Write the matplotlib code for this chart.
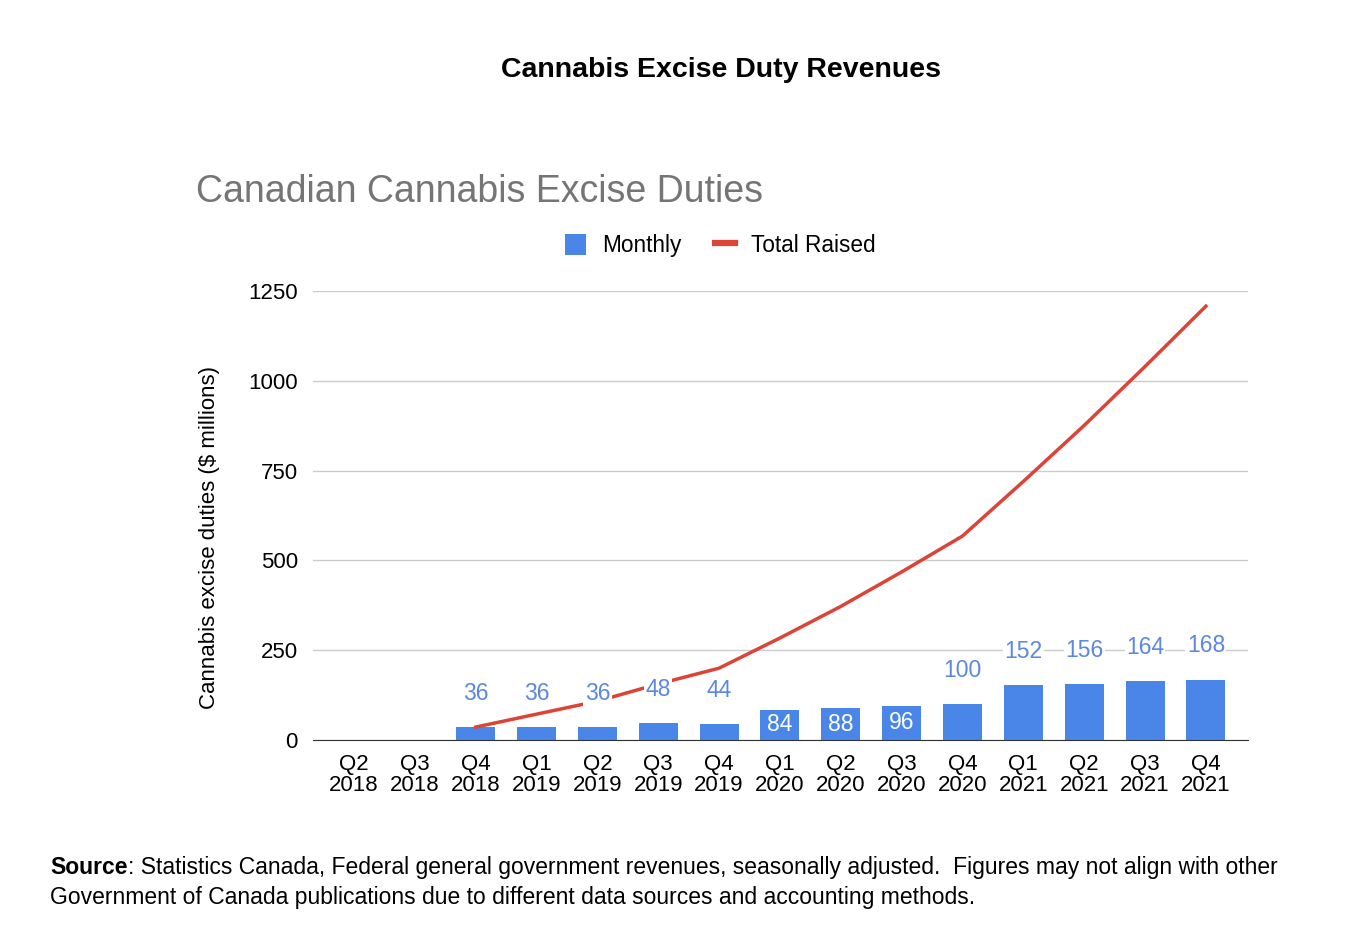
import matplotlib.pyplot as plt
from matplotlib.patches import Patch
from matplotlib.lines import Line2D
import numpy as np

plt.rcParams['font.family'] = ['Liberation Sans', 'DejaVu Sans']

# data
quarters = ['Q2\n2018', 'Q3\n2018', 'Q4\n2018', 'Q1\n2019', 'Q2\n2019', 'Q3\n2019', 'Q4\n2019',
            'Q1\n2020', 'Q2\n2020', 'Q3\n2020', 'Q4\n2020', 'Q1\n2021', 'Q2\n2021', 'Q3\n2021', 'Q4\n2021']
monthly = [0, 0, 36, 36, 36, 48, 44, 84, 88, 96, 100, 152, 156, 164, 168]
total_raised = [np.nan, np.nan, 36, 72, 108, 156, 200, 284, 372, 468, 568, 720, 876, 1040, 1208]
inside_labels = [False, False, False, False, False, False, False, True, True, True, False, False, False, False, False]

BLUE = '#4a86e8'
RED = '#db4437'
LABEL_BLUE = '#5b88e0'

fig = plt.figure(figsize=(13.52, 9.3), dpi=100)
ax = fig.add_axes([0.2315, 0.2043, 0.6915, 0.4827])

x = np.arange(len(quarters))
ax.bar(x, monthly, width=0.64, color=BLUE, zorder=2)
ax.plot(x, total_raised, color=RED, linewidth=2.5, zorder=3)

# value labels (white inside for the Q1-Q3 2020 bars, blue above otherwise)
for xi, v, inside in zip(x, monthly, inside_labels):
    if v == 0:
        continue
    if inside:
        ax.text(xi, v * 0.5, str(v), ha='center', va='center', color='white', fontsize=16.5, zorder=4)
    else:
        ax.text(xi, v + 94, str(v), ha='center', va='center', color=LABEL_BLUE, fontsize=16.5, zorder=4,
                bbox=dict(facecolor='white', edgecolor='none', pad=1))

ax.set_xlim(-0.674, 14.69)
ax.set_ylim(0, 1250)
ax.set_yticks([0, 250, 500, 750, 1000, 1250])
ax.set_xticks(x)
ax.set_xticklabels(quarters, linespacing=1.0)
ax.tick_params(axis='both', length=0, labelsize=16)
ax.tick_params(axis='y', pad=11)
ax.tick_params(axis='x', pad=10)
ax.grid(axis='y', color='#cccccc', linewidth=1, zorder=0)
ax.set_axisbelow(True)
for s in ['top', 'right', 'left']:
    ax.spines[s].set_visible(False)
ax.spines['bottom'].set_color('#333333')
ax.spines['bottom'].set_zorder(5)
ax.set_ylabel('Cannabis excise duties ($ millions)', fontsize=16)
ax.yaxis.set_label_coords(-0.0994, 0.452)

fig.text(0.533, 0.925, 'Cannabis Excise Duty Revenues', ha='center', va='center',
         fontsize=20.5, fontweight='bold')
fig.text(0.145, 0.794, 'Canadian Cannabis Excise Duties', ha='left', va='center',
         fontsize=27, color='#757575')

handles = [Patch(facecolor=BLUE, edgecolor='none', label='Monthly'),
           Line2D([0], [0], color=RED, linewidth=4.5, label='Total Raised')]
fig.legend(handles=handles, loc='center', bbox_to_anchor=(0.533, 0.736), ncol=2, frameon=False,
           fontsize=16.3, handlelength=0.9, handleheight=1.1, columnspacing=1.5, handletextpad=0.7)

src = fig.text(0.037, 0.067, 'Source', fontsize=16.5, fontweight='bold', ha='left', va='center')
fig.canvas.draw()
bb = src.get_window_extent().transformed(fig.transFigure.inverted())
fig.text(bb.x1, 0.067, ': Statistics Canada, Federal general government revenues, seasonally adjusted.  '
         'Figures may not align with other', fontsize=16.5, ha='left', va='center')
fig.text(0.037, 0.035, 'Government of Canada publications due to different data sources and accounting methods.',
         fontsize=16.5, ha='left', va='center')

fig.savefig('out.png', dpi=100)
